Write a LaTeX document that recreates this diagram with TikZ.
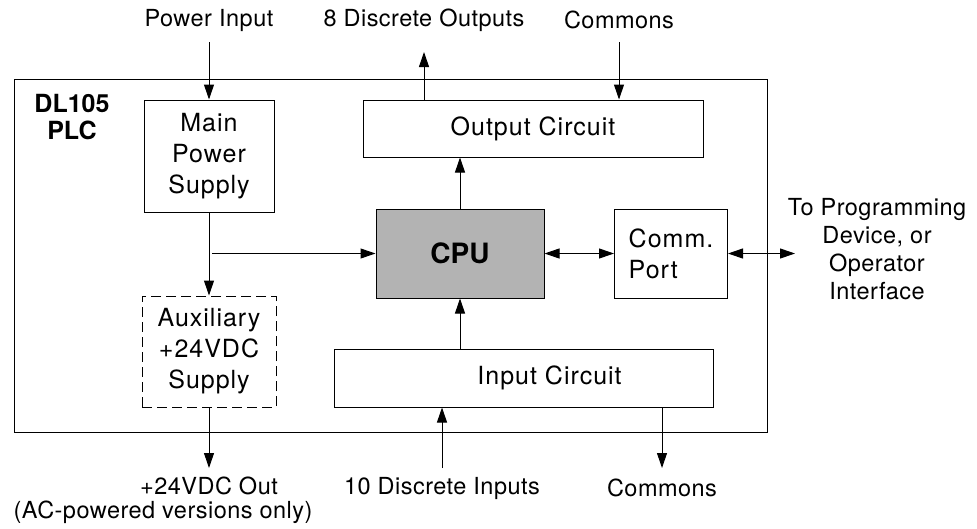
\documentclass[tikz,border=0pt]{standalone}
\usepackage{fontspec}
\setmainfont{TeX Gyre Heros}
\newfontfamily\blkfam[LetterSpace=4]{TeX Gyre Heros}
\newfontfamily\lblfam[LetterSpace=2]{TeX Gyre Heros}
\usetikzlibrary{arrows.meta}
\definecolor{cpugray}{RGB}{179,179,179}
\tikzset{
	blk/.style={draw, line width=1pt, inner sep=0pt, align=center, font=\blkfam\fontsize{25}{31}\selectfont},
	lbl/.style={inner sep=0pt, font=\lblfam\fontsize{23.5}{27}\selectfont},
	arr/.style={-{Triangle[length=15pt,width=10pt]}, line width=1pt},
	arrs/.style={{Triangle[length=15pt,width=10pt]}-{Triangle[length=15pt,width=10pt]}, line width=1pt}
}

\begin{document}
\begin{tikzpicture}[x=1pt, y=-1pt]
	\useasboundingbox (0,0) rectangle (977,528);
	% PLC frame and blocks
	\node[draw, line width=1pt, minimum width=753pt, minimum height=353pt] (plc) at (390.5,255.5) {};
	\node[align=center, font=\bfseries\fontsize{25}{27}\selectfont] (plcname) at (72,117) {DL105\\PLC};
	\node[blk, minimum width=130pt, minimum height=112pt] (psu) at (209,156) {Main\\Power\\Supply};
	\node[blk, minimum width=340pt, minimum height=57pt] (outc) at (533,128.5) {Output Circuit};
	\node[blk, fill=cpugray, font=\bfseries\fontsize{28}{34}\selectfont, minimum width=168pt, minimum height=89pt] (cpu) at (460,253.5) {CPU};
	\node[blk, align=left, minimum width=113pt, minimum height=89pt] (comm) at (671,253.5) {Comm.\\Port};
	\node[blk, dash pattern=on 10pt off 5pt, minimum width=134pt, minimum height=111pt] (aux) at (209,351.5) {Auxiliary\\+24VDC\\Supply};
	\node[blk, minimum width=379pt, minimum height=58pt, label={[xshift=26pt, font=\blkfam\fontsize{25}{31}\selectfont]center:Input Circuit}] (inc) at (523.5,378) {};
	% outside texts
	\node[lbl] (pwrtxt) at (209,20) {Power Input};
	\node[lbl] (douttxt) at (424,20) {8 Discrete Outputs};
	\node[lbl] (ctoptxt) at (619,20) {Commons};
	\node[lbl, align=center, font=\lblfam\fontsize{23.5}{28}\selectfont] (progtxt) at (877,249) {To Programming\\Device, or\\Operator\\Interface};
	\node[lbl] (vouttxt) at (209,486) {+24VDC Out};
	\node[lbl] (notetxt) at (163,512) {(AC-powered versions only)};
	\node[lbl] (dintxt) at (442,488) {10 Discrete Inputs};
	\node[lbl] (cbottxt) at (662,488) {Commons};
	% free ends
	\coordinate (pwrin) at (209,42);
	\coordinate (dout) at (424,52);
	\coordinate (ctop) at (619,42);
	\coordinate (tap) at (212,253.5);
	\coordinate (prog) at (795,253.5);
	\coordinate (vout) at (209,468);
	\coordinate (din) at (442,468);
	\coordinate (cbot) at (662,468);
	% connections
	\path[arr]
	(pwrin) edge (psu.north)
	(psu.south) edge (aux.north)
	(tap) edge (cpu.west)
	(outc.north -| dout) edge (dout)
	(ctop) edge (outc.north -| ctop)
	(cpu.north) edge (cpu.north |- outc.south)
	(inc.north -| cpu) edge (cpu.south)
	(aux.south) edge (vout)
	(din) edge (inc.south -| din)
	(inc.south -| cbot) edge (cbot);
	\path[arrs]
	(cpu.east) edge (comm.west)
	(comm.east) edge (prog);
\end{tikzpicture}
\end{document}
